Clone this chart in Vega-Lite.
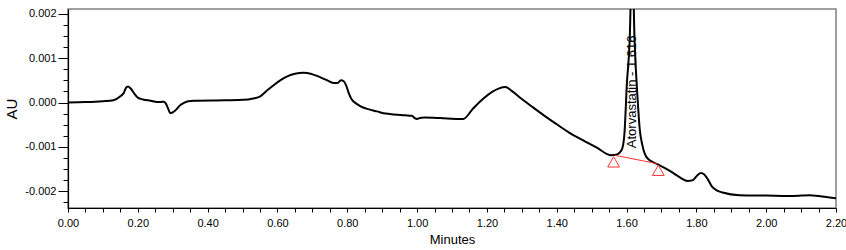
{
  "$schema": "https://vega.github.io/schema/vega-lite/v6.json",
  "width": 768,
  "height": 199,
  "autosize": {"type": "none"},
  "padding": {"left": 68, "top": 9, "right": 10, "bottom": 42},
  "background": "white",
  "config": {
    "view": {"stroke": "#808080", "strokeWidth": 1.5},
    "font": "Liberation Sans",
    "axis": {
      "labelFont": "Liberation Sans", "labelFontSize": 11, "labelColor": "#000",
      "titleFont": "Liberation Sans Narrow, Liberation Sans", "titleFontWeight": "normal", "titleColor": "#000",
      "domainColor": "#000", "domainWidth": 1.2, "tickColor": "#000", "tickSize": 4,
      "grid": false, "labelOverlap": false
    }
  },
  "datasets": {
    "trace": [
      {"t": 0.00, "au": 0.0}, {"t": 0.05, "au": 0.00001}, {"t": 0.10, "au": 0.00003},
      {"t": 0.13, "au": 0.00005}, {"t": 0.15, "au": 0.00014}, {"t": 0.16, "au": 0.00022},
      {"t": 0.166, "au": 0.00033}, {"t": 0.172, "au": 0.00036}, {"t": 0.18, "au": 0.00031},
      {"t": 0.19, "au": 0.0002}, {"t": 0.20, "au": 0.00011}, {"t": 0.215, "au": 0.00007},
      {"t": 0.237, "au": 0.00004}, {"t": 0.255, "au": 0.00001}, {"t": 0.265, "au": 0.00001},
      {"t": 0.274, "au": 0.00002}, {"t": 0.28, "au": -0.00002}, {"t": 0.286, "au": -0.00012},
      {"t": 0.293, "au": -0.00024}, {"t": 0.30, "au": -0.00022}, {"t": 0.31, "au": -0.00016},
      {"t": 0.32, "au": -0.00007}, {"t": 0.332, "au": -0.00001}, {"t": 0.345, "au": 0.00003},
      {"t": 0.361, "au": 0.00004}, {"t": 0.45, "au": 0.00005}, {"t": 0.504, "au": 0.00006},
      {"t": 0.53, "au": 0.00009}, {"t": 0.551, "au": 0.00014}, {"t": 0.57, "au": 0.00027},
      {"t": 0.589, "au": 0.00039}, {"t": 0.61, "au": 0.00051}, {"t": 0.628, "au": 0.00059},
      {"t": 0.65, "au": 0.00065}, {"t": 0.675, "au": 0.00067}, {"t": 0.695, "au": 0.00065},
      {"t": 0.713, "au": 0.0006}, {"t": 0.74, "au": 0.00051}, {"t": 0.761, "au": 0.00044},
      {"t": 0.772, "au": 0.00044}, {"t": 0.782, "au": 0.0005}, {"t": 0.79, "au": 0.00048},
      {"t": 0.797, "au": 0.00038}, {"t": 0.804, "au": 0.00022}, {"t": 0.812, "au": 0.00008},
      {"t": 0.825, "au": -0.00002}, {"t": 0.837, "au": -0.00008}, {"t": 0.86, "au": -0.00015},
      {"t": 0.885, "au": -0.0002}, {"t": 0.91, "au": -0.00025}, {"t": 0.932, "au": -0.00027},
      {"t": 0.965, "au": -0.00029}, {"t": 0.985, "au": -0.0003}, {"t": 0.993, "au": -0.00035},
      {"t": 1.0, "au": -0.00037}, {"t": 1.008, "au": -0.00035}, {"t": 1.02, "au": -0.00034},
      {"t": 1.066, "au": -0.00035}, {"t": 1.12, "au": -0.00037}, {"t": 1.132, "au": -0.00037},
      {"t": 1.16, "au": -0.00014}, {"t": 1.19, "au": 0.00009}, {"t": 1.215, "au": 0.00024},
      {"t": 1.235, "au": 0.00032}, {"t": 1.253, "au": 0.00035}, {"t": 1.27, "au": 0.00027},
      {"t": 1.30, "au": 0.00008}, {"t": 1.332, "au": -0.00011}, {"t": 1.365, "au": -0.0003},
      {"t": 1.40, "au": -0.00049}, {"t": 1.44, "au": -0.0007}, {"t": 1.475, "au": -0.00085},
      {"t": 1.515, "au": -0.00102}, {"t": 1.556, "au": -0.00119}, {"t": 1.57, "au": -0.00118},
      {"t": 1.58, "au": -0.00113}, {"t": 1.588, "au": -0.00103}, {"t": 1.594, "au": -0.0007},
      {"t": 1.601, "au": 0.00043}, {"t": 1.609, "au": 0.0014}, {"t": 1.616, "au": 0.0034},
      {"t": 1.623, "au": 0.0014}, {"t": 1.632, "au": 0.00004}, {"t": 1.638, "au": -0.00062},
      {"t": 1.645, "au": -0.00095}, {"t": 1.656, "au": -0.00122}, {"t": 1.67, "au": -0.00132},
      {"t": 1.685, "au": -0.00138}, {"t": 1.71, "au": -0.00148}, {"t": 1.732, "au": -0.00158},
      {"t": 1.755, "au": -0.0017}, {"t": 1.775, "au": -0.00177}, {"t": 1.79, "au": -0.00175},
      {"t": 1.803, "au": -0.00164}, {"t": 1.813, "au": -0.00159}, {"t": 1.822, "au": -0.00162},
      {"t": 1.832, "au": -0.00172}, {"t": 1.845, "au": -0.0019}, {"t": 1.86, "au": -0.00199},
      {"t": 1.875, "au": -0.00203}, {"t": 1.923, "au": -0.00209}, {"t": 2.0, "au": -0.0021},
      {"t": 2.066, "au": -0.00211}, {"t": 2.10, "au": -0.0021}, {"t": 2.123, "au": -0.00209},
      {"t": 2.16, "au": -0.00212}, {"t": 2.2, "au": -0.00216}
    ],
    "baseline": [
      {"t": 1.566, "au": -0.00119}, {"t": 1.688, "au": -0.00138}
    ],
    "markers": [
      {"t": 1.563, "au": -0.00134}, {"t": 1.691, "au": -0.00153}
    ],
    "peaks": [
      {"t": 1.617, "au": -0.00103, "name": "Atorvastatin - 1.616"}
    ]
  },
  "layer": [
    {
      "data": {"name": "trace"},
      "mark": {"type": "line", "color": "#000", "strokeWidth": 2, "clip": true, "interpolate": "monotone"},
      "encoding": {
        "x": {
          "field": "t", "type": "quantitative",
          "scale": {"domain": [0, 2.2], "nice": false, "zero": false},
          "axis": {
            "title": "Minutes", "titleFontSize": 13, "titlePadding": 5,
            "tickCount": 100,
            "values": [0,0.05,0.1,0.15,0.2,0.25,0.3,0.35,0.4,0.45,0.5,0.55,0.6,0.65,0.7,0.75,0.8,0.85,0.9,0.95,1.0,1.05,1.1,1.15,1.2,1.25,1.3,1.35,1.4,1.45,1.5,1.55,1.6,1.65,1.7,1.75,1.8,1.85,1.9,1.95,2.0,2.05,2.1,2.15,2.2],
            "labelExpr": "round(datum.value*100) % 20 == 0 ? format(datum.value, '.2f') : ''",
            "labelPadding": 5, "labelFlush": false
          }
        },
        "y": {
          "field": "au", "type": "quantitative",
          "scale": {"domain": [-0.00238, 0.00211], "nice": false, "zero": false},
          "axis": {
            "title": "AU", "titleFontSize": 15, "titlePadding": 5,
            "tickCount": 100,
            "values": [-0.00225,-0.002,-0.00175,-0.0015,-0.00125,-0.001,-0.00075,-0.0005,-0.00025,0,0.00025,0.0005,0.00075,0.001,0.00125,0.0015,0.00175,0.002],
            "labelExpr": "abs(datum.value*1000 - round(datum.value*1000)) < 0.000001 ? replace(format(datum.value, '.3f'), '\u2212', '-') : ''",
            "tickSize": {"condition": {"test": "abs(datum.value*1000 - round(datum.value*1000)) < 0.000001", "value": 10}, "value": 5},
            "labelPadding": 2
          }
        }
      }
    },
    {
      "data": {"name": "baseline"},
      "mark": {"type": "line", "color": "#ff3333", "strokeWidth": 1},
      "encoding": {
        "x": {"field": "t", "type": "quantitative"},
        "y": {"field": "au", "type": "quantitative"}
      }
    },
    {
      "data": {"name": "markers"},
      "mark": {"type": "point", "shape": "triangle-up", "color": "#ff3333", "filled": false, "size": 140, "strokeWidth": 1, "opacity": 1},
      "encoding": {
        "x": {"field": "t", "type": "quantitative"},
        "y": {"field": "au", "type": "quantitative"}
      }
    },
    {
      "data": {"name": "peaks"},
      "mark": {"type": "text", "angle": 270, "align": "left", "baseline": "middle", "fontSize": 13, "color": "#000", "font": "Liberation Sans"},
      "encoding": {
        "x": {"field": "t", "type": "quantitative"},
        "y": {"field": "au", "type": "quantitative"},
        "text": {"field": "name"}
      }
    }
  ]
}
